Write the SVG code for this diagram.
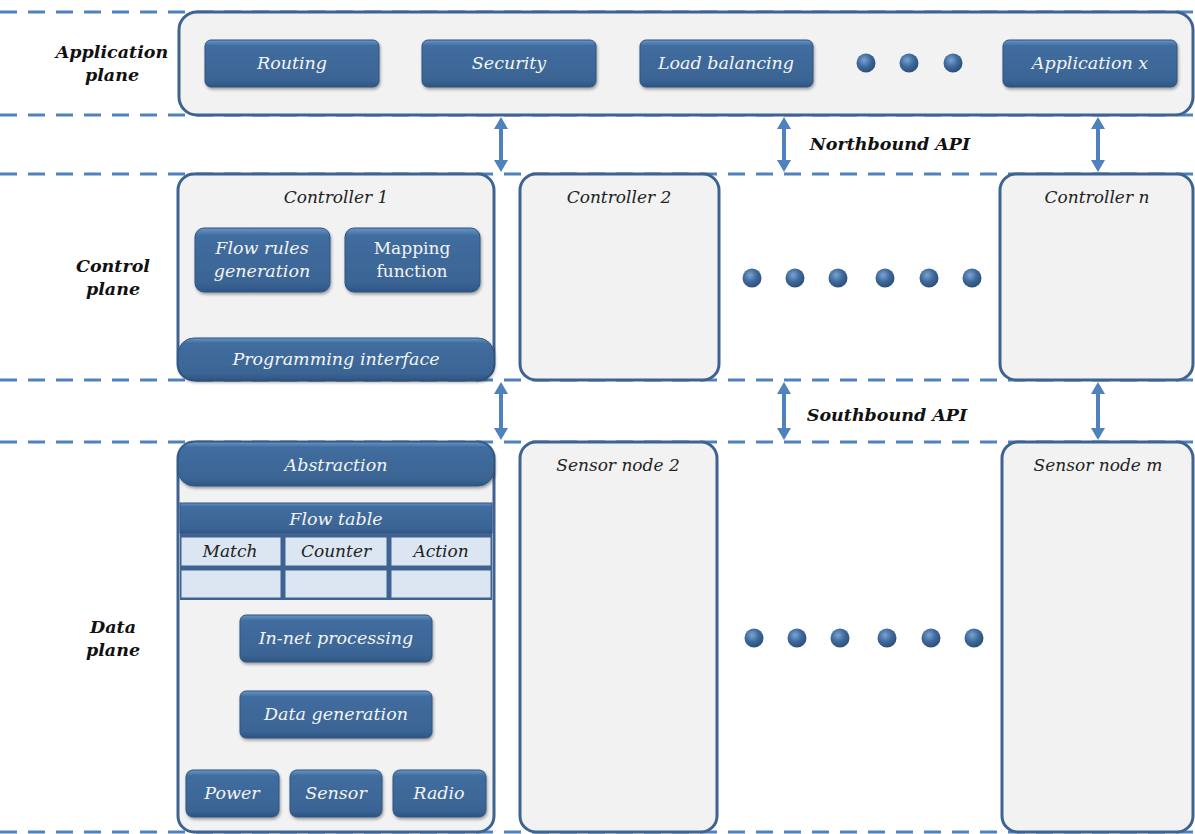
<svg xmlns="http://www.w3.org/2000/svg" width="1195" height="834" viewBox="0 0 1195 834">
<style>
.dash{stroke:#4f81bd;stroke-width:3;stroke-dasharray:17 11;fill:none}
.panel{fill:#f2f2f2;stroke:#3e6391;stroke-width:3}
.btn{fill:url(#bg);stroke:#2f5380;stroke-width:1;filter:url(#sh)}
.bt{font-family:"DejaVu Serif","Liberation Serif",serif;font-style:italic;font-size:17.5px;fill:#f4f4f4;text-anchor:middle}
.bu{font-family:"DejaVu Serif","Liberation Serif",serif;font-size:17px;fill:#f4f4f4;text-anchor:middle}
.lbl{font-family:"DejaVu Serif","Liberation Serif",serif;font-style:italic;font-weight:bold;font-size:17.5px;fill:#111;text-anchor:middle}
.tt{font-family:"DejaVu Serif","Liberation Serif",serif;font-style:italic;font-size:17px;fill:#222;text-anchor:middle}
.cell{fill:#dce6f2;stroke:#3e6391;stroke-width:1}
.dot{fill:url(#dg)}
.arr{stroke:#4f81bd;stroke-width:4;fill:none;marker-start:url(#ah);marker-end:url(#ah)}
</style>
<defs>
<linearGradient id="bg" x1="0" y1="0" x2="0" y2="1">
<stop offset="0" stop-color="#6a95c8"/>
<stop offset="0.12" stop-color="#416d9f"/>
<stop offset="0.85" stop-color="#3a6494"/>
<stop offset="1" stop-color="#2f5583"/>
</linearGradient>
<radialGradient id="dg" cx="0.4" cy="0.35" r="0.7">
<stop offset="0" stop-color="#7aa4d4"/>
<stop offset="0.5" stop-color="#3f6a9c"/>
<stop offset="1" stop-color="#284b76"/>
</radialGradient>
<filter id="sh" x="-10%" y="-20%" width="120%" height="150%">
<feDropShadow dx="1" dy="2" stdDeviation="1.5" flood-color="#000" flood-opacity="0.35"/>
</filter>
<marker id="ah" viewBox="0 0 12 14" refX="4" refY="7" markerWidth="3" markerHeight="3.5" orient="auto-start-reverse" markerUnits="strokeWidth">
<path d="M0,0 L12,7 L0,14 z" fill="#4f81bd"/>
</marker>
</defs>
<rect width="1195" height="834" fill="#fff"/>

<g id="plane-lines">
<line class="dash" x1="0" y1="12" x2="1195" y2="12"/>
<line class="dash" x1="0" y1="115" x2="1195" y2="115"/>
<line class="dash" x1="0" y1="174" x2="1195" y2="174"/>
<line class="dash" x1="0" y1="380" x2="1195" y2="380"/>
<line class="dash" x1="0" y1="442" x2="1195" y2="442"/>
<line class="dash" x1="0" y1="832" x2="1195" y2="832"/>
</g>

<g id="plane-labels">
<text class="lbl" x="112" y="58">Application</text>
<text class="lbl" x="112" y="81">plane</text>
<text class="lbl" x="113" y="272">Control</text>
<text class="lbl" x="113" y="295">plane</text>
<text class="lbl" x="113" y="633">Data</text>
<text class="lbl" x="113" y="656">plane</text>
</g>

<g id="application-plane">
<rect class="panel" x="179" y="12" width="1014" height="103" rx="18"/>
<g id="routing"><rect class="btn" x="205" y="40" width="174" height="47" rx="6"/><text class="bt" x="292" y="69">Routing</text></g>
<g id="security"><rect class="btn" x="422" y="40" width="174" height="47" rx="6"/><text class="bt" x="509" y="69">Security</text></g>
<g id="load-balancing"><rect class="btn" x="640" y="40" width="173" height="47" rx="6"/><text class="bt" x="726" y="69">Load balancing</text></g>
<g id="app-dots"><circle class="dot" cx="866" cy="63" r="9.5"/><circle class="dot" cx="909" cy="63" r="9.5"/><circle class="dot" cx="953" cy="63" r="9.5"/></g>
<g id="application-x"><rect class="btn" x="1003" y="40" width="174" height="47" rx="6"/><text class="bt" x="1090" y="69">Application x</text></g>
</g>

<g id="connectors">
<line class="arr" x1="501" y1="125" x2="501" y2="164"/>
<line class="arr" x1="784" y1="125" x2="784" y2="164"/>
<line class="arr" x1="1098" y1="125" x2="1098" y2="164"/>
<line class="arr" x1="501" y1="390" x2="501" y2="432"/>
<line class="arr" x1="784" y1="390" x2="784" y2="432"/>
<line class="arr" x1="1098" y1="390" x2="1098" y2="432"/>
<text class="lbl" x="890" y="150">Northbound API</text>
<text class="lbl" x="887" y="421">Southbound API</text>
</g>

<g id="controller-1">
<rect class="panel" x="178" y="174" width="316" height="206" rx="16"/>
<text class="tt" x="336" y="203">Controller 1</text>
<g id="flow-rules"><rect class="btn" x="195" y="228" width="135" height="64" rx="9"/><text class="bt" x="262" y="254">Flow rules</text><text class="bt" x="262" y="277">generation</text></g>
<g id="mapping"><rect class="btn" x="345" y="228" width="135" height="64" rx="9"/><text class="bu" x="412" y="254">Mapping</text><text class="bu" x="412" y="277">function</text></g>
<g id="programming-interface"><rect class="btn" x="178" y="338" width="316" height="42" rx="16"/><text class="bt" x="336" y="365">Programming interface</text></g>
</g>

<g id="controller-2">
<rect class="panel" x="520" y="174" width="199" height="206" rx="16"/>
<text class="tt" x="619" y="203">Controller 2</text>
</g>

<g id="control-dots">
<circle class="dot" cx="752" cy="278" r="9.5"/><circle class="dot" cx="795" cy="278" r="9.5"/><circle class="dot" cx="838" cy="278" r="9.5"/><circle class="dot" cx="885" cy="278" r="9.5"/><circle class="dot" cx="929" cy="278" r="9.5"/><circle class="dot" cx="972" cy="278" r="9.5"/>
</g>

<g id="controller-n">
<rect class="panel" x="1000" y="174" width="193" height="206" rx="16"/>
<text class="tt" x="1097" y="203">Controller n</text>
</g>

<g id="sensor-node-1">
<rect class="panel" x="178" y="442" width="316" height="390" rx="16"/>
<g id="abstraction"><rect class="btn" x="178" y="442" width="316" height="44" rx="16"/><text class="bt" x="336" y="471">Abstraction</text></g>
<g id="flow-table">
<rect x="180" y="503" width="312" height="30" fill="url(#bg)" stroke="#2f5380" stroke-width="1"/>
<text class="bt" x="336" y="525">Flow table</text>
<rect x="180" y="533" width="312" height="67" fill="#3e6391"/>
<rect class="cell" x="181" y="537" width="100" height="29"/>
<rect class="cell" x="285" y="537" width="102" height="29"/>
<rect class="cell" x="391" y="537" width="100" height="29"/>
<rect class="cell" x="181" y="570" width="100" height="28"/>
<rect class="cell" x="285" y="570" width="102" height="28"/>
<rect class="cell" x="391" y="570" width="100" height="28"/>
<text class="tt" x="230" y="557">Match</text>
<text class="tt" x="336" y="557">Counter</text>
<text class="tt" x="441" y="557">Action</text>
</g>
<g id="in-net"><rect class="btn" x="240" y="615" width="192" height="47" rx="6"/><text class="bt" x="336" y="644">In-net processing</text></g>
<g id="data-gen"><rect class="btn" x="240" y="691" width="192" height="47" rx="6"/><text class="bt" x="336" y="720">Data generation</text></g>
<g id="power"><rect class="btn" x="186" y="770" width="93" height="47" rx="7"/><text class="bt" x="232" y="799">Power</text></g>
<g id="sensor"><rect class="btn" x="290" y="770" width="92" height="47" rx="7"/><text class="bt" x="336" y="799">Sensor</text></g>
<g id="radio"><rect class="btn" x="393" y="770" width="93" height="47" rx="7"/><text class="bt" x="439" y="799">Radio</text></g>
</g>

<g id="sensor-node-2">
<rect class="panel" x="520" y="442" width="197" height="390" rx="16"/>
<text class="tt" x="618" y="471">Sensor node 2</text>
</g>

<g id="data-dots">
<circle class="dot" cx="754" cy="638" r="9.5"/><circle class="dot" cx="797" cy="638" r="9.5"/><circle class="dot" cx="840" cy="638" r="9.5"/><circle class="dot" cx="887" cy="638" r="9.5"/><circle class="dot" cx="931" cy="638" r="9.5"/><circle class="dot" cx="974" cy="638" r="9.5"/>
</g>

<g id="sensor-node-m">
<rect class="panel" x="1002" y="442" width="191" height="390" rx="16"/>
<text class="tt" x="1098" y="471">Sensor node m</text>
</g>
</svg>
